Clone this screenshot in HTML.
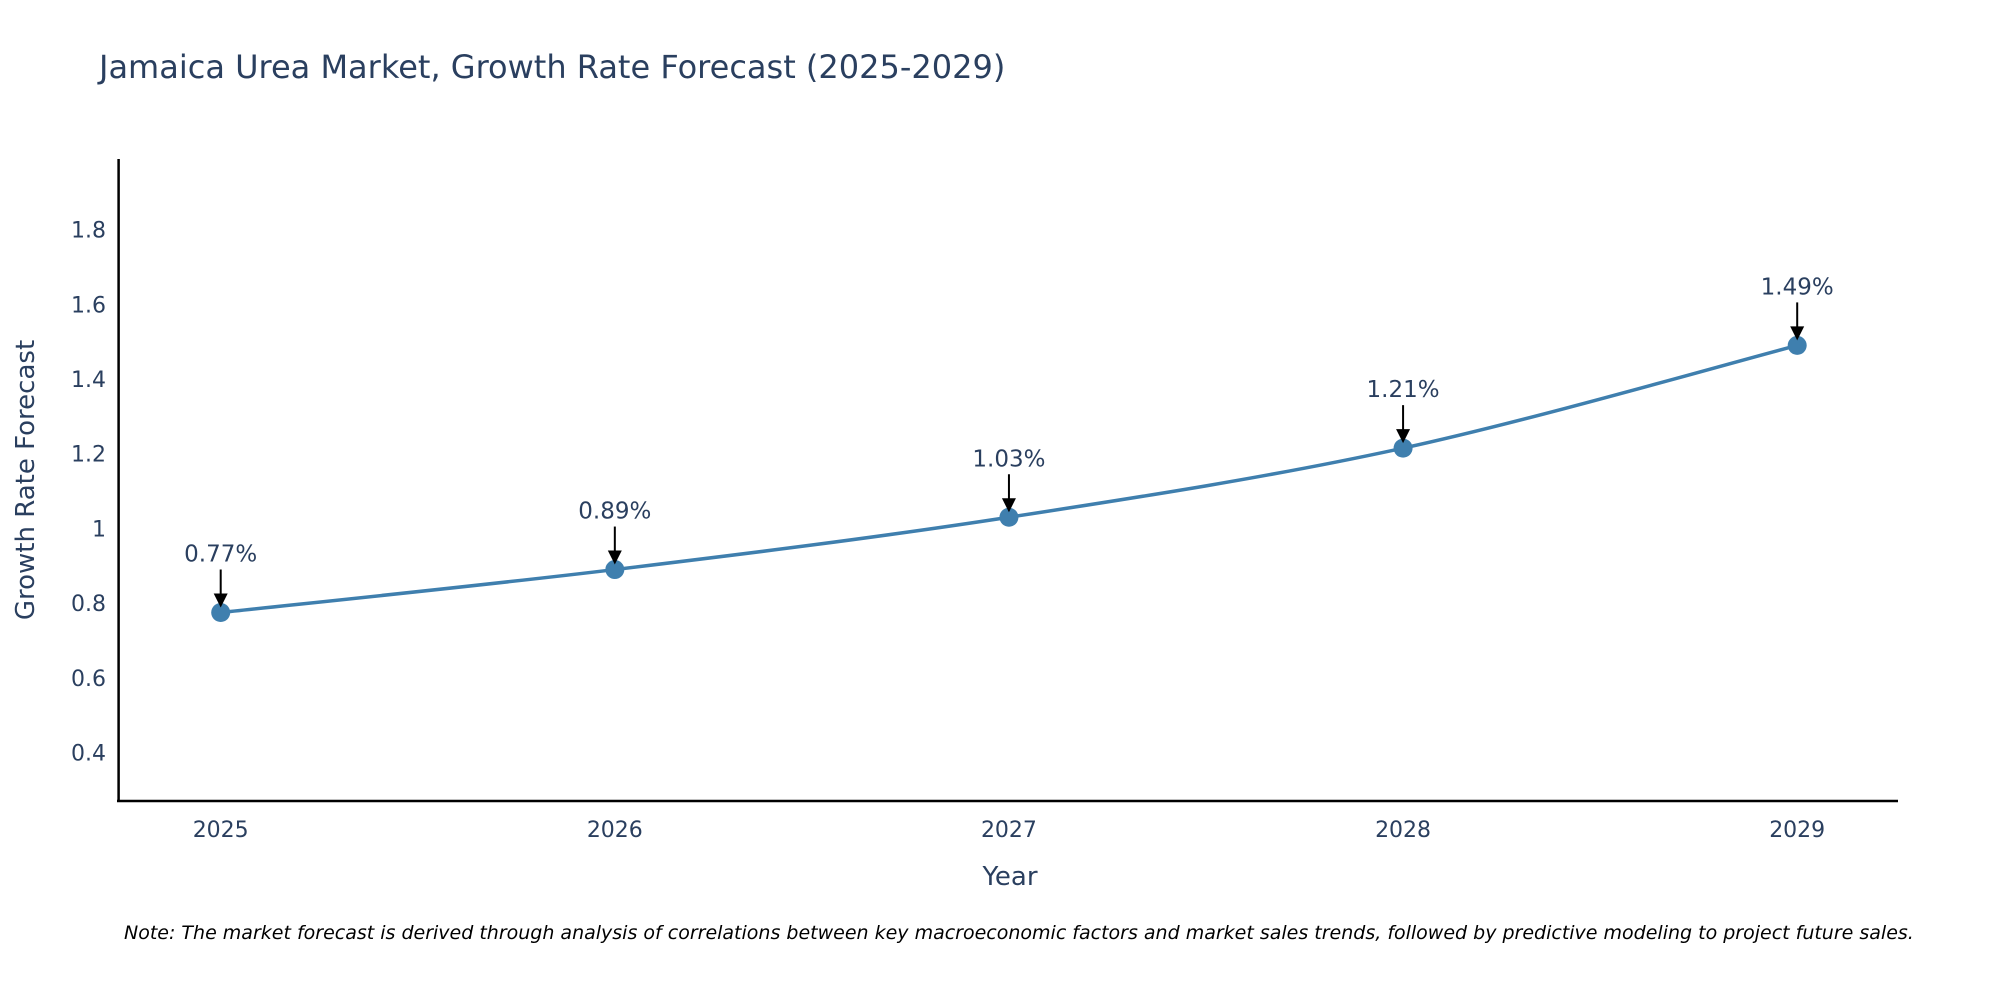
<!DOCTYPE html>
<html><head><meta charset="utf-8"><style>
body{margin:0;background:#fff;overflow:hidden;}
svg text{font-family:"DejaVu Sans","Liberation Sans",sans-serif;fill:#2a3f5f;}
</style></head><body>
<svg id="chart" width="2000" height="1000" xmlns="http://www.w3.org/2000/svg">
<rect width="2000" height="1000" fill="#fff"/>
<text x="99" y="78" font-size="32">Jamaica Urea Market, Growth Rate Forecast (2025-2029)</text>
<g id="yticks"></g>
<g id="xticks"></g>
<line x1="118.6" y1="159" x2="118.6" y2="802" stroke="#000" stroke-width="2.5"/>
<line x1="117" y1="801" x2="1898" y2="801" stroke="#000" stroke-width="2.5"/>
<path id="line" fill="none" stroke="#3f7fae" stroke-width="3.5"/>
<g id="marks"></g>
<g id="annots"></g>
<text x="1010" y="885" font-size="26" text-anchor="middle">Year</text>
<text transform="translate(34,480) rotate(-90)" font-size="26" text-anchor="middle">Growth Rate Forecast</text>
<text x="124" y="939" font-size="19" font-style="italic" style="fill:#000">Note: The market forecast is derived through analysis of correlations between key macroeconomic factors and market sales trends, followed by predictive modeling to project future sales.</text>
</svg>
<script>
const categories=[2025,2026,2027,2028,2029];
const values=[0.775,0.89,1.03,1.215,1.49];
const labels=["0.77%","0.89%","1.03%","1.21%","1.49%"];
const yTicks=[0.4,0.6,0.8,1,1.2,1.4,1.6,1.8];
const NS="http://www.w3.org/2000/svg";
function xs(c){return 220.7+(c-2025)*(1797.2-220.7)/4;}
function ys(v){return 752.6-(v-0.4)*(752.6-229.6)/1.4;}
function mk(t,a,p){const e=document.createElementNS(NS,t);for(const k in a)e.setAttribute(k,a[k]);p.appendChild(e);return e;}
const yt=document.getElementById('yticks');
yTicks.forEach(v=>{const t=mk('text',{x:106,y:ys(v)+8,'font-size':22,'text-anchor':'end'},yt);


t.textContent=String(v);});
const xt=document.getElementById('xticks');
categories.forEach(c=>{const t=mk('text',{x:xs(c),y:837,'font-size':22,'text-anchor':'middle'},xt);


t.textContent=String(c);});
const P=categories.map((c,i)=>[xs(c),ys(values[i])]);
let d="M"+P[0][0]+","+P[0][1];
for(let i=0;i<P.length-1;i++){const p0=P[Math.max(0,i-1)],p1=P[i],p2=P[i+1],p3=P[Math.min(P.length-1,i+2)];const s=6;
d+=" C"+(p1[0]+(p2[0]-p0[0])/s)+","+(p1[1]+(p2[1]-p0[1])/s)+" "+(p2[0]-(p3[0]-p1[0])/s)+","+(p2[1]-(p3[1]-p1[1])/s)+" "+p2[0]+","+p2[1];}
document.getElementById('line').setAttribute('d',d);
const mg=document.getElementById('marks'),ag=document.getElementById('annots');
P.forEach((p,i)=>{const c=mk('circle',{cx:p[0],cy:p[1],r:9.5,fill:'#3f7fae'},mg);


const l=mk('line',{x1:p[0],y1:p[1]-43,x2:p[0],y2:p[1]-16,stroke:'#000','stroke-width':2},ag);


const h=mk('polygon',{points:(p[0]-7)+","+(p[1]-19)+" "+(p[0]+7)+","+(p[1]-19)+" "+p[0]+","+(p[1]-5),fill:'#000'},ag);


const t=mk('text',{x:p[0],y:p[1]-51,'font-size':23,'text-anchor':'middle'},ag);


t.textContent=labels[i];});
</script>
</body></html>
